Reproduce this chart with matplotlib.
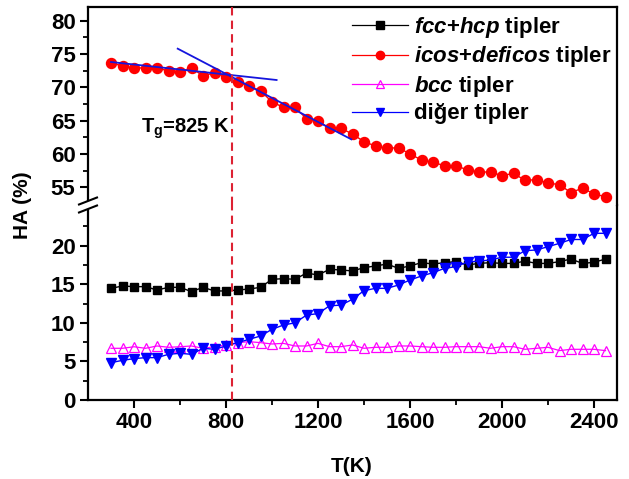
import matplotlib
matplotlib.use("Agg")
import matplotlib.pyplot as plt
from matplotlib.lines import Line2D
from matplotlib.patches import Polygon
from matplotlib.ticker import FixedLocator

plt.rcParams['font.family'] = ['Liberation Sans', 'DejaVu Sans']
plt.rcParams['font.weight'] = 'bold'
plt.rcParams['mathtext.fontset'] = 'custom'
plt.rcParams['mathtext.rm'] = 'Liberation Sans:bold'
plt.rcParams['mathtext.it'] = 'Liberation Sans:italic:bold'
plt.rcParams['mathtext.bf'] = 'Liberation Sans:bold'

# ---------------- data ----------------
T = [300, 350, 400, 450, 500, 550, 600, 650, 700, 750, 800, 850, 900, 950,
     1000, 1050, 1100, 1150, 1200, 1250, 1300, 1350, 1400, 1450, 1500, 1550,
     1600, 1650, 1700, 1750, 1800, 1850, 1900, 1950, 2000, 2050, 2100, 2150,
     2200, 2250, 2300, 2350, 2400, 2450]

icos = [73.6, 73.25, 72.85, 72.95, 72.85, 72.5, 72.3, 72.95, 71.7, 72.2, 71.6,
        70.8, 70.2, 69.5, 67.8, 67.0, 67.0, 65.3, 65.0, 63.85, 63.85, 63.0,
        61.85, 61.2, 60.85, 60.95, 60.0, 59.1, 58.75, 58.25, 58.25, 57.6, 57.3,
        57.3, 56.75, 57.1, 56.05, 56.15, 55.65, 55.4, 54.2, 54.9, 54.0, 53.6]

fcc = [14.47, 14.77, 14.69, 14.69, 14.25, 14.6, 14.6, 14.04, 14.6, 14.13, 14.13,
       14.25, 14.38, 14.6, 15.64, 15.72, 15.64, 16.45, 16.2, 16.93, 16.85, 16.72,
       17.15, 17.37, 17.62, 17.06, 17.37, 17.8, 17.62, 17.8, 17.93, 17.5, 17.7,
       17.8, 17.7, 17.7, 18.0, 17.7, 17.7, 17.93, 18.27, 17.7, 17.84, 18.27]

bcc = [6.7, 6.7, 6.9, 6.7, 7.0, 6.83, 6.9, 7.0, 6.7, 6.9, 7.13, 7.43, 7.56, 7.43,
       7.26, 7.34, 7.0, 7.0, 7.34, 6.91, 6.91, 7.13, 6.7, 6.83, 6.83, 7.0, 7.0,
       6.91, 6.83, 6.83, 6.91, 6.91, 6.91, 6.7, 6.91, 6.91, 6.57, 6.7, 6.83,
       6.4, 6.57, 6.57, 6.57, 6.4]

other = [4.84, 5.14, 5.36, 5.49, 5.49, 5.92, 6.05, 5.92, 6.7, 6.57, 7.0, 7.43,
         7.86, 8.29, 9.16, 9.72, 10.0, 11.0, 11.2, 12.2, 12.3, 13.05, 14.17,
         14.47, 14.47, 14.9, 15.55, 16.07, 16.5, 17.06, 17.28, 17.88, 18.0,
         18.14, 18.5, 18.5, 19.35, 19.44, 19.87, 20.3, 20.8, 20.8, 21.6, 21.6]

tan1_T = [300, 1020]
tan1_y = [73.8, 71.1]
tan2_T = [590, 1345]
tan2_y = [75.8, 62.2]

Tg = 825
labels = [r"$fcc$+$hcp$ tipler", r"$icos$+$deficos$ tipler",
          r"$bcc$ tipler", "diğer tipler"]
x_ticks = [400, 800, 1200, 1600, 2000, 2400]
low_ticks = [0, 5, 10, 15, 20]
up_ticks = [55, 60, 65, 70, 75, 80]

# ---------------- layout ----------------
W, H = 629, 479
fig = plt.figure(figsize=(W / 100, H / 100), dpi=100)

left_px, right_px = 88, 617
top_px, bot_px, brk_px = 7, 400, 205

def fx(px):
    return px / W

def fy(py):
    return 1 - py / H

ax_low = fig.add_axes([fx(left_px), fy(bot_px), fx(right_px - left_px), (bot_px - brk_px) / H])
ax_up = fig.add_axes([fx(left_px), fy(brk_px), fx(right_px - left_px), (brk_px - top_px) / H],
                     sharex=ax_low)

ax_low.set_xlim(200, 2500)
ax_low.set_ylim(0, (bot_px - brk_px) / 7.717)
ax_up.set_ylim(80 - (brk_px - 20.67) / 6.667, 80 + (20.67 - top_px) / 6.667)

l_fcc, = ax_low.plot(T, fcc, '-s', color='black', ms=6.2, lw=1.0, zorder=3)
l_bcc, = ax_low.plot(T, bcc, '-^', color='#FF00FF', mfc='none', mec='#FF00FF',
                     ms=7.5, mew=0.9, lw=0.9, zorder=3)
l_oth, = ax_low.plot(T, other, '-v', color='#0000FF', ms=7.5, lw=1.0, zorder=3)
l_ico, = ax_up.plot(T, icos, '-o', color='#FF0000', ms=7.2, lw=1.0, zorder=3)

ax_up.plot(tan1_T, tan1_y, color='#1515DD', lw=1.3, zorder=5)
ax_up.plot(tan2_T, tan2_y, color='#1515DD', lw=1.3, zorder=5)

for ax in (ax_low, ax_up):
    ax.axvline(Tg, color='#DD2233', lw=1.5, ls=(0, (4, 2.5)), zorder=6)
    for s in ax.spines.values():
        s.set_linewidth(1.6)
    ax.tick_params(axis='both', which='major', direction='out', length=6,
                   width=1.5, labelsize=16, pad=3)
    ax.tick_params(axis='both', which='minor', direction='out', length=3.5,
                   width=1.3)
    ax.tick_params(right=False, top=False)

ax_low.spines['top'].set_visible(False)
ax_up.spines['bottom'].set_visible(False)
ax_up.tick_params(axis='x', which='both', bottom=False, labelbottom=False)

ax_low.xaxis.set_major_locator(FixedLocator(x_ticks))
ax_low.xaxis.set_minor_locator(FixedLocator([600, 1000, 1400, 1800, 2200]))
ax_low.yaxis.set_major_locator(FixedLocator(low_ticks))
ax_low.yaxis.set_minor_locator(FixedLocator([2.5, 7.5, 12.5, 17.5, 22.5]))
ax_up.yaxis.set_major_locator(FixedLocator(up_ticks))
ax_up.yaxis.set_minor_locator(FixedLocator([57.5, 62.5, 67.5, 72.5, 77.5]))

for lab in ax_low.get_xticklabels() + ax_low.get_yticklabels() + ax_up.get_yticklabels():
    lab.set_fontweight('bold')

# axis labels
fig.text(fx(22), fy(205), "HA (%)", rotation=90, ha='center', va='center',
         fontsize=15, fontweight='bold')
fig.text(fx(352), fy(466), "T(K)", ha='center', va='center',
         fontsize=15, fontweight='bold')

# Tg annotation
fig.text(fx(141), fy(133), r"T$_{\mathrm{g}}$=825 K", ha='left', va='baseline',
         fontsize=14.5, fontweight='bold')

# legend
handles = [l_fcc, l_ico, l_bcc, l_oth]
leg = fig.legend(handles, labels, loc='upper left',
                 bbox_to_anchor=(fx(352), fy(15)), bbox_transform=fig.transFigure,
                 frameon=False, numpoints=1, handlelength=2.5,
                 handletextpad=0.3, labelspacing=0.2, borderpad=0, borderaxespad=0,
                 prop={'weight': 'bold', 'size': 16})
for hd in leg.legend_handles:
    hd.set_markersize(6)
    hd.set_linewidth(0.9)

# axis break marks
yc = brk_px
x0, x1 = 79, 97
d, h = 4, 3.5
p1 = [(x0, yc - d + h), (x1, yc - d - h)]
p2 = [(x0, yc + d + h), (x1, yc + d - h)]
poly = Polygon([(fx(x), fy(y)) for (x, y) in [p1[0], p1[1], p2[1], p2[0]]],
               closed=True, transform=fig.transFigure, facecolor='white',
               edgecolor='none', zorder=10)
fig.add_artist(poly)
for p in (p1, p2):
    fig.add_artist(Line2D([fx(p[0][0]), fx(p[1][0])], [fy(p[0][1]), fy(p[1][1])],
                          transform=fig.transFigure, color='black', lw=1.5, zorder=11))

fig.savefig("out.png", dpi=100)
